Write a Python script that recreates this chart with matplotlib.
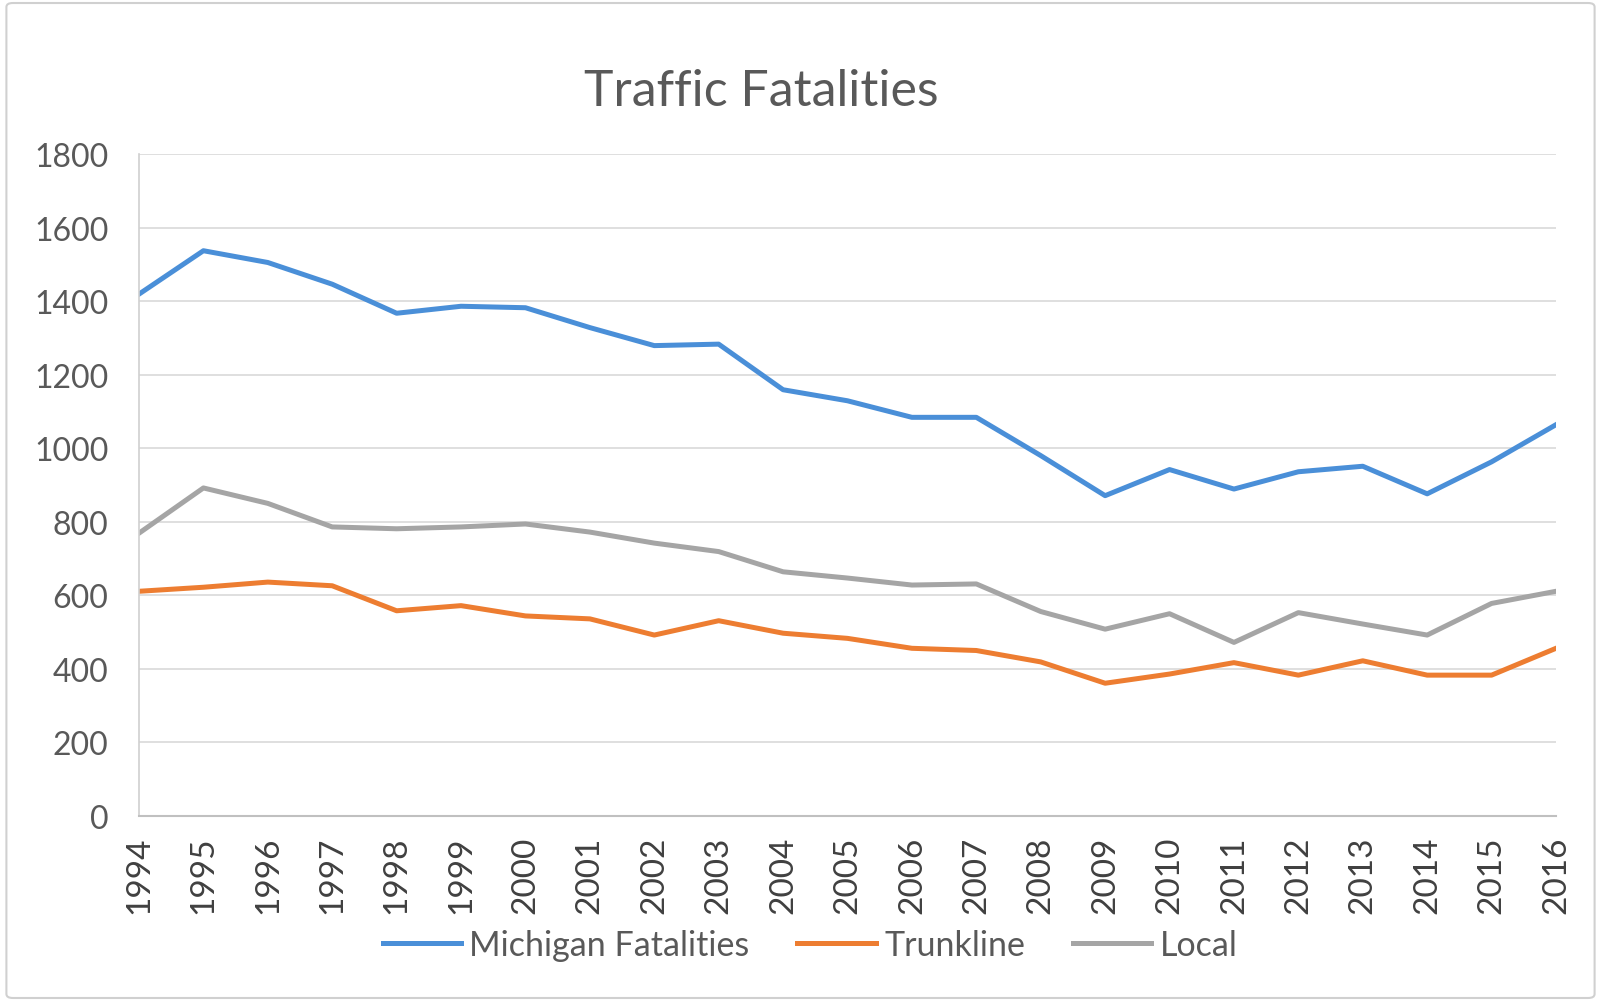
"""
Traffic fatalities in Michigan, 1994-2016: total, trunkline and local roads
"""

from matplotlib import pyplot as plt
from matplotlib.patches import FancyBboxPatch


years = list(range(1994, 2017))
michigan = [1419, 1537, 1505, 1446, 1367, 1386, 1382, 1328, 1279, 1283, 1159, 1129,
            1084, 1084, 980, 871, 942, 889, 936, 951, 876, 963, 1064]
trunkline = [611, 622, 636, 626, 558, 572, 544, 536, 492, 531, 497, 483,
             456, 450, 419, 361, 386, 417, 383, 422, 383, 383, 456]
local = [769, 892, 850, 786, 781, 786, 794, 772, 742, 719, 664, 647,
         628, 631, 556, 508, 550, 472, 553, 522, 492, 578, 611]

plt.rcParams['font.family'] = ['Lato', 'DejaVu Sans']

fig = plt.figure(figsize=(16.01, 10.03), dpi=100)
ax = fig.add_axes([139 / 1601, 1 - 817 / 1003, (1556 - 139) / 1601, (817 - 155) / 1003])

# chart border
fig.patches.append(FancyBboxPatch((0.004, 0.004), 0.992, 0.992, boxstyle='round,pad=0,rounding_size=0.004',
                                  transform=fig.transFigure, fill=False, edgecolor='#d0d0d0', lw=1.5))

ax.plot(years, michigan, color='#4a8fd8', lw=3.6, label='Michigan Fatalities', solid_joinstyle='round')
ax.plot(years, trunkline, color='#ed7d31', lw=3.6, label='Trunkline', solid_joinstyle='round')
ax.plot(years, local, color='#a5a5a5', lw=3.6, label='Local', solid_joinstyle='round')

ax.set_xlim(1994, 2016)
ax.set_ylim(0, 1800)
ax.set_yticks(range(0, 1801, 200))
ax.set_xticks(years)
ax.set_xticklabels([str(y) for y in years], rotation=90, fontsize=24, color='#404040')
ax.tick_params(axis='y', labelsize=23, labelcolor='#595959', length=0, pad=22)
ax.tick_params(axis='x', length=0, pad=14)
for t in ax.get_yticklabels():
    t.set_horizontalalignment('right')

ax.grid(axis='y', color='#d9d9d9', lw=1.2)
ax.set_axisbelow(True)
for s in ['top', 'right']:
    ax.spines[s].set_visible(False)
ax.spines['left'].set_color('#d0d0d0')
ax.spines['bottom'].set_color('#c0c0c0')
ax.spines['left'].set_linewidth(1.2)
ax.spines['bottom'].set_linewidth(1.5)

fig.text(761 / 1601, 1 - 92 / 1003, 'Traffic Fatalities', ha='center', va='center',
         fontsize=36, color='#595959')

fig.legend(loc='center', bbox_to_anchor=(810 / 1601, 1 - 946 / 1003), ncol=3, frameon=False,
           fontsize=24.5, handlelength=2.3, handletextpad=0.25, columnspacing=1.4, labelcolor='#595959')

fig.savefig('out.png', dpi=100)
